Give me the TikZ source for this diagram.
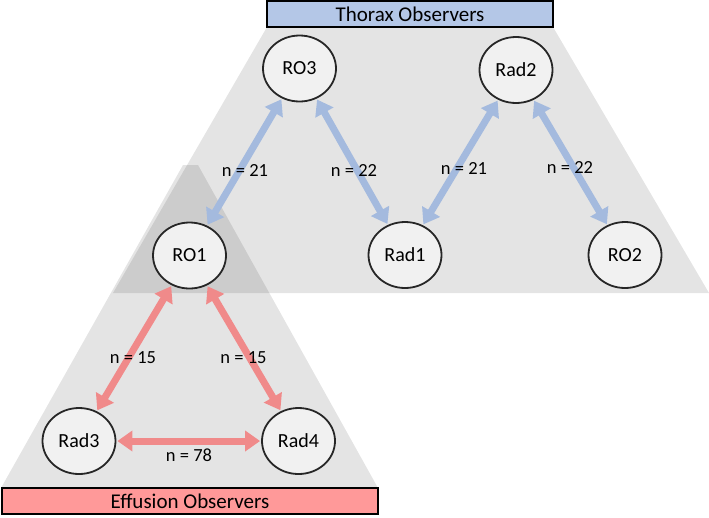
\documentclass[tikz,border=0pt]{standalone}
\usepackage{fontspec}
\setmainfont{Carlito}
\usetikzlibrary{shapes.geometric,arrows.meta}
\definecolor{blueArr}{RGB}{164,186,222}
\definecolor{pinkArr}{RGB}{240,138,138}
\definecolor{thoraxFill}{RGB}{180,199,231}
\definecolor{effFill}{RGB}{255,153,153}
\definecolor{nodeFill}{RGB}{241,241,241}
\definecolor{nodeLine}{RGB}{38,38,38}
\tikzset{
  obs/.style={ellipse,draw=nodeLine,fill=nodeFill,line width=1.8pt,minimum width=73pt,minimum height=66pt,inner sep=0pt,font=\fontsize{20}{24}\selectfont},
  zone/.style={fill=black,fill opacity=0.105,draw=none},
  header/.style={draw=black,line width=2pt},
  blink/.style={blueArr,line width=7pt,{Triangle[width=20pt,length=15pt]}-{Triangle[width=20pt,length=15pt]},shorten <=1pt,shorten >=1pt},
  plink/.style={pinkArr,line width=7pt,{Triangle[width=20pt,length=15pt]}-{Triangle[width=20pt,length=15pt]},shorten <=1pt,shorten >=1pt},
  nlab/.style={font=\fontsize{18.5}{22}\selectfont,inner sep=0pt},
  htext/.style={font=\fontsize{21}{25}\selectfont,inner sep=0pt}
}
\begin{document}
\begin{tikzpicture}[x=1pt,y=-1pt]
\useasboundingbox (0,0) rectangle (709,517);
% zones
\fill[zone] (267,27) -- (553,27) -- (709,293) -- (113,293) -- cycle;
\fill[zone] (183,165) -- (198,165) -- (378,488) -- (1,488) -- cycle;
% headers
\draw[header,fill=thoraxFill] (267,1) rectangle (553,27);
\node[htext] (thx) at (410,14.5) {Thorax Observers};
\draw[header,fill=effFill] (2,488) rectangle (378,514);
\node[htext] (eff) at (190,501.5) {Effusion Observers};
% nodes
\node[obs] (RO3) at (299.5,68.5) {RO3};
\node[obs] (Rad2) at (516,70) {Rad2};
\node[obs] (RO1) at (189.5,255.5) {RO1};
\node[obs] (Rad1) at (405,255) {Rad1};
\node[obs] (RO2) at (625,255) {RO2};
\node[obs] (Rad3) at (79,441) {Rad3};
\node[obs] (Rad4) at (298.5,441) {Rad4};
% links
\draw[blink] (RO3) -- (RO1);
\draw[blink] (RO3) -- (Rad1);
\draw[blink] (Rad2) -- (Rad1);
\draw[blink] (Rad2) -- (RO2);
\draw[plink] (RO1) -- (Rad3);
\draw[plink] (RO1) -- (Rad4);
\draw[plink] (Rad3) -- (Rad4);
% labels
\node[nlab] (l1) at (245,170) {n = 21};
\node[nlab] (l2) at (354,170) {n = 22};
\node[nlab] (l3) at (464,168) {n = 21};
\node[nlab] (l4) at (570,167) {n = 22};
\node[nlab] (l5) at (133,358) {n = 15};
\node[nlab] (l6) at (243.5,358) {n = 15};
\node[nlab] (l7) at (189,455) {n = 78};
\end{tikzpicture}
\end{document}
